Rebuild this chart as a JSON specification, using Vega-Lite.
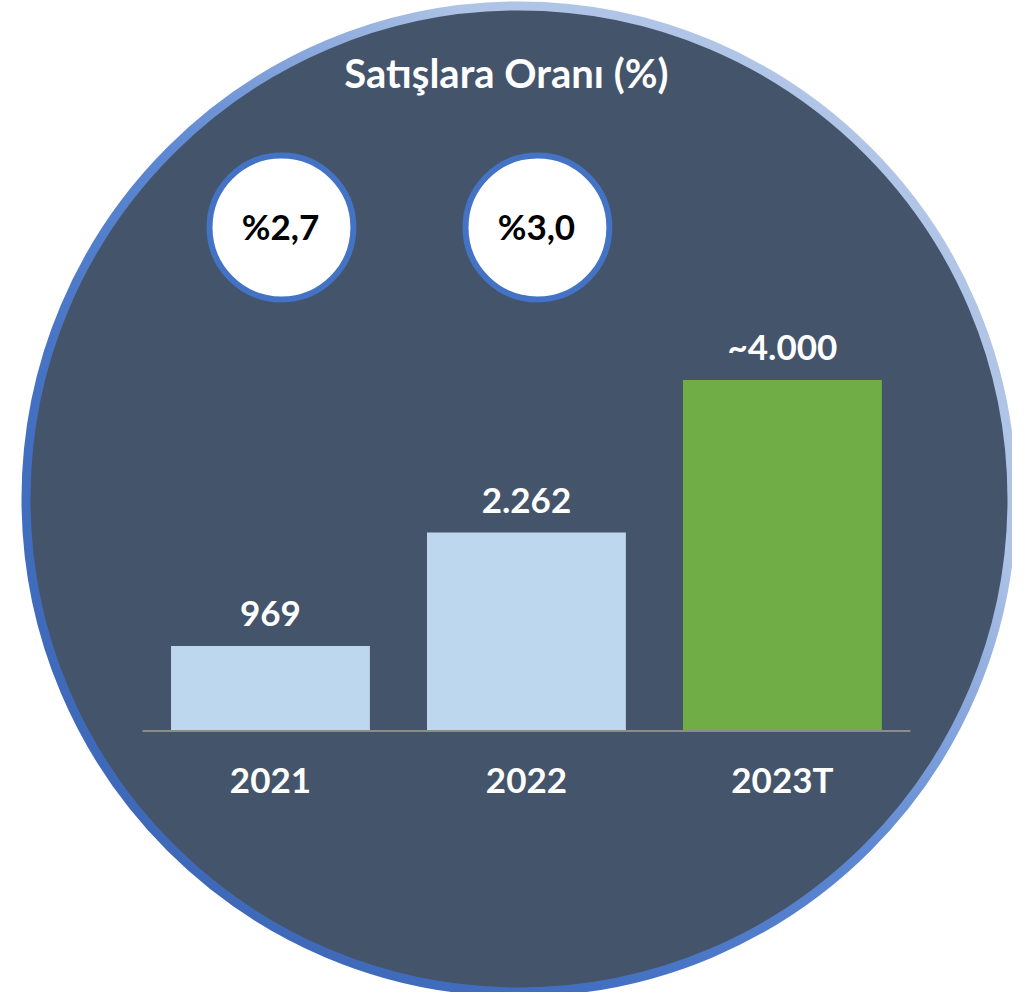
{
  "$schema": "https://vega.github.io/schema/vega-lite/v6.json",
  "width": 986,
  "height": 986,
  "autosize": {"type": "none"},
  "padding": {"left": 26, "top": 6, "right": 0, "bottom": 0},
  "background": "#FFFFFF",
  "view": {
    "cornerRadius": 493,
    "fill": "#44546A",
    "strokeWidth": 9,
    "stroke": {
      "gradient": "linear",
      "x1": 0, "y1": 1, "x2": 1, "y2": 0,
      "stops": [
        {"offset": 0, "color": "#3A62B0"},
        {"offset": 0.3, "color": "#4370C2"},
        {"offset": 0.5, "color": "#5E88D2"},
        {"offset": 0.72, "color": "#AEC3E6"},
        {"offset": 1, "color": "#B4C7E7"}
      ]
    }
  },
  "config": {
    "font": "Lato",
    "axis": {"grid": false},
    "view": {"stroke": null}
  },
  "data": {
    "values": [
      {"year": "2021", "value": 969, "label": "969"},
      {"year": "2022", "value": 2262, "label": "2.262"},
      {"year": "2023T", "value": 4000, "label": "~4.000"}
    ]
  },
  "encoding": {
    "x": {
      "field": "year",
      "type": "nominal",
      "axis": null,
      "sort": null,
      "scale": {"type": "band", "domain": ["2021", "2022", "2023T"], "paddingInner": 0.223, "paddingOuter": 0.5375, "align": 0.527}
    }
  },
  "layer": [
    {
      "mark": {"type": "bar"},
      "encoding": {
        "y": {"field": "value", "type": "quantitative", "axis": null, "scale": {"domain": [-2974, 8262], "nice": false, "zero": false}},
        "y2": {"datum": 0},
        "color": {
          "field": "year",
          "type": "nominal",
          "legend": null,
          "scale": {"domain": ["2021", "2022", "2023T"], "range": ["#BDD7EE", "#BDD7EE", "#70AD47"]}
        }
      }
    },
    {
      "data": {"values": [{"from": "2021", "to": "2023T"}]},
      "mark": {"type": "rule", "color": "#8C8C8C", "strokeWidth": 2, "xOffset": -128, "x2Offset": 128},
      "encoding": {
        "x": {"field": "from", "type": "nominal"},
        "x2": {"field": "to"},
        "y": {"datum": 0, "type": "quantitative"}
      }
    },
    {
      "mark": {"type": "text", "font": "Lato", "fontWeight": "bold", "fontSize": 35, "color": "#FFFFFF", "baseline": "alphabetic", "align": "center", "dy": -20},
      "encoding": {
        "y": {"field": "value", "type": "quantitative"},
        "text": {"field": "label", "type": "nominal"}
      }
    },
    {
      "mark": {"type": "text", "font": "Lato", "fontWeight": "bold", "fontSize": 35, "color": "#FFFFFF", "baseline": "alphabetic", "align": "center", "dy": 62},
      "encoding": {
        "y": {"datum": 0, "type": "quantitative"},
        "text": {"field": "year", "type": "nominal"}
      }
    },
    {
      "data": {"values": [{"year": "2021", "ratio": "%2,7"}, {"year": "2022", "ratio": "%3,0"}]},
      "mark": {"type": "point", "shape": "circle", "filled": true, "fill": "#FFFFFF", "stroke": "#4472C4", "strokeWidth": 6, "opacity": 1, "size": 20700, "xOffset": 11},
      "encoding": {
        "x": {"field": "year", "type": "nominal"},
        "y": {"datum": 5738, "type": "quantitative"}
      }
    },
    {
      "data": {"values": [{"year": "2021", "ratio": "%2,7"}, {"year": "2022", "ratio": "%3,0"}]},
      "mark": {"type": "text", "font": "Lato", "fontWeight": "bold", "fontSize": 35, "color": "#000000", "baseline": "alphabetic", "align": "center", "dy": 13, "xOffset": 10},
      "encoding": {
        "x": {"field": "year", "type": "nominal"},
        "y": {"datum": 5738, "type": "quantitative"},
        "text": {"field": "ratio", "type": "nominal"}
      }
    },
    {
      "data": {"values": [{"pos": "2022", "t": "Satışlara Oranı (%)"}]},
      "mark": {"type": "text", "font": "Lato", "fontWeight": "bold", "fontSize": 40, "color": "#FFFFFF", "baseline": "alphabetic", "align": "center", "xOffset": -20},
      "encoding": {
        "x": {"field": "pos", "type": "nominal"},
        "y": {"datum": 7330, "type": "quantitative"},
        "text": {"field": "t", "type": "nominal"}
      }
    }
  ]
}
